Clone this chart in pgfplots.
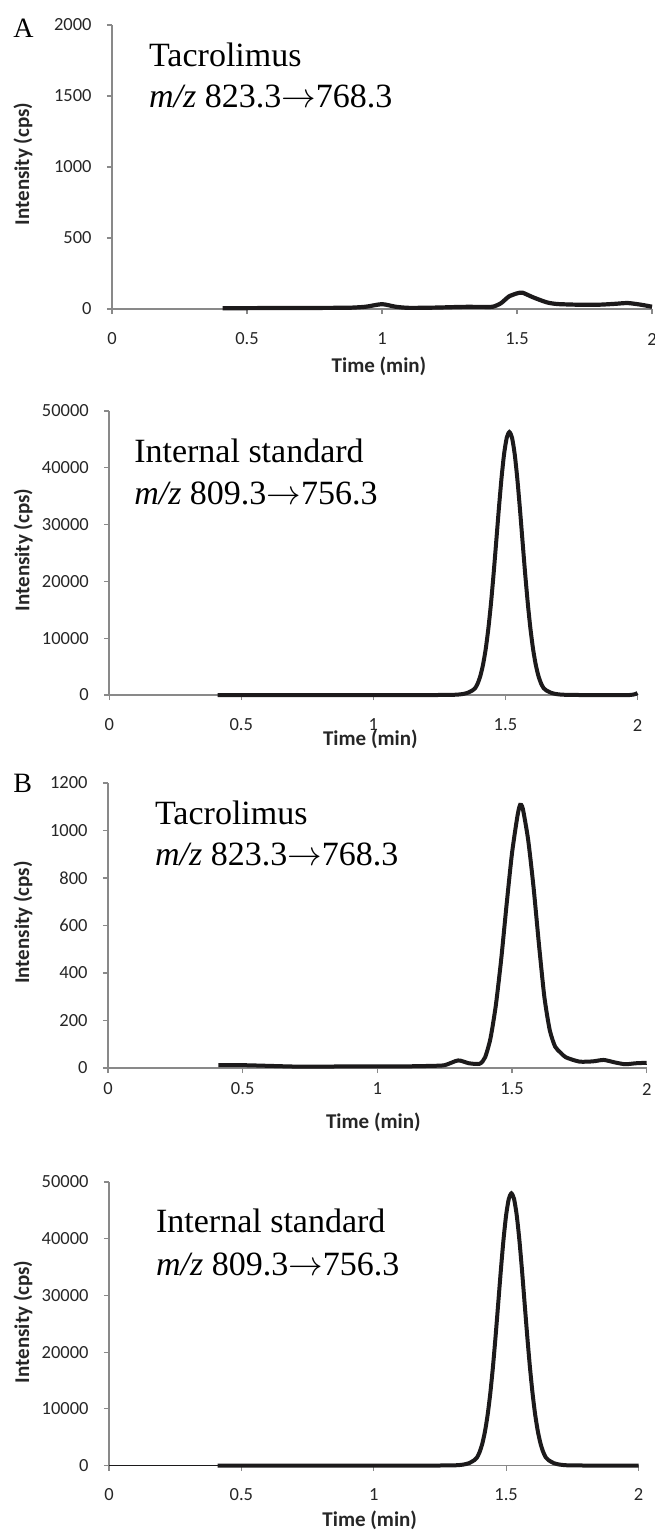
\documentclass[border=0pt]{standalone}
\usepackage{fontspec}
\setmainfont{Liberation Serif}
\newfontfamily\calibri{Carlito}
\usepackage{pgfplots}
\usepackage{pgfplotstable}
\pgfplotsset{compat=1.18}
\definecolor{axgray}{HTML}{898989}
\definecolor{txt}{HTML}{262626}
\definecolor{curve}{HTML}{1C1A1B}

\pgfplotstableread{
t y
0.41 6
0.50 6
0.60 7
0.70 7
0.80 8
0.88 9
0.94 16
1.00 34
1.05 16
1.10 8
1.20 10
1.30 15
1.37 15
1.41 16
1.44 40
1.47 88
1.50 110
1.52 115
1.56 82
1.61 47
1.65 35
1.73 30
1.80 30
1.86 36
1.91 42
1.96 30
2.00 16
}\tacA

\pgfplotstableread{
t y
0.41 0
0.80 0
1.20 0
1.28 10
1.315 60
1.335 150
1.355 350
1.375 800
1.385 1180
1.395 2030
1.405 3350
1.415 5290
1.425 7980
1.435 11550
1.445 15990
1.455 21200
1.465 26910
1.475 32720
1.485 38090
1.495 42450
1.505 45300
1.515 46300
1.525 45300
1.535 42450
1.545 38090
1.555 32720
1.565 26910
1.575 21200
1.585 15990
1.595 11550
1.605 7980
1.615 5290
1.625 3350
1.635 2030
1.645 1180
1.655 800
1.675 350
1.695 150
1.715 60
1.75 10
1.80 0
1.97 0
2.00 350
}\isA

\pgfplotstableread{
t y
0.41 12
0.50 12
0.60 9
0.70 6
0.80 6
0.90 7
1.00 7
1.10 7
1.20 9
1.25 12
1.30 32
1.34 20
1.38 18
1.40 45
1.42 125
1.44 265
1.46 460
1.48 690
1.50 905
1.52 1060
1.53 1108
1.54 1092
1.56 960
1.58 760
1.60 520
1.62 300
1.64 160
1.66 90
1.68 65
1.70 45
1.75 27
1.80 28
1.84 34
1.88 24
1.92 16
1.96 20
2.00 22
}\tacB

\pgfplotstableread{
t y
0.41 0
0.80 0
1.20 0
1.28 10
1.30 25
1.32 70
1.34 180
1.36 420
1.38 950
1.39 1420
1.40 2390
1.41 3860
1.42 5980
1.43 8880
1.44 12660
1.45 17300
1.46 22680
1.47 28520
1.48 34400
1.49 39800
1.50 44160
1.51 47010
1.52 48000
1.53 47010
1.54 44160
1.55 39800
1.56 34400
1.57 28520
1.58 22680
1.59 17300
1.60 12660
1.61 8880
1.62 5980
1.63 3860
1.64 2390
1.65 1420
1.66 950
1.68 420
1.70 180
1.72 70
1.74 25
1.78 5
1.85 0
2.00 0
}\isB

\pgfplotsset{chrom/.style={
  scale only axis, anchor=south west,
  axis lines=left, axis line style={-, draw=axgray, line width=0.7pt},
  xmin=0, xmax=2, ymin=0,
  xtick={0,0.5,1,1.5,2}, xticklabels={0,0.5,1,1.5,2},
  tick style={draw=axgray, line width=0.6pt}, tick align=outside, major tick length=2.5pt,
  minor tick num=0, scaled y ticks=false, scaled x ticks=false,
  ticklabel style={font=\calibri\fontsize{9.25}{10}\selectfont, text=txt, inner sep=0pt},
  yticklabel style={anchor=east, xshift=-7.5pt},
  label style={font=\calibri\bfseries\fontsize{10.5}{12}\selectfont, text=txt},
  xlabel={Time (min)}, ylabel={Intensity (cps)},
  clip=false,
}}
\newcommand{\ann}{\fontsize{17}{20}\selectfont}
\newcommand{\arr}{$\rightarrow$}

\begin{document}
\begin{tikzpicture}[x=1pt,y=1pt]
\useasboundingbox (0,0) rectangle (327,-765.5);

% Panel A tacrolimus
\begin{axis}[chrom, at={(56pt,-154.5pt)}, width=270pt, height=142pt, ymax=2000,
  ytick={0,500,1000,1500,2000}, yticklabels={0,500,1000,1500,2000},
  xticklabel style={anchor=center, yshift=-12.5pt},
  xlabel style={at={([xshift=-1.5pt,yshift=-28.5pt]axis description cs:0.5,0)}, anchor=center},
  ylabel style={at={([xshift=-44.5pt,yshift=1.5pt]axis description cs:0,0.5)}, anchor=center}]
\addplot[curve, line width=2.1pt, smooth, tension=0.4] table[x=t,y=y]{\tacA};
\node[anchor=base west, font=\ann] at ([xshift=15pt,yshift=121.5pt]rel axis cs:0,0) {Tacrolimus};
\node[anchor=base west, font=\ann] at ([xshift=15pt,yshift=101pt]rel axis cs:0,0) {\textit{m/z} 823.3\arr768.3};
\end{axis}

% Panel A internal standard
\begin{axis}[chrom, at={(54.6pt,-347.5pt)}, width=264.15pt, height=142pt, ymax=50000,
  ytick={0,10000,20000,30000,40000,50000}, yticklabels={0,10000,20000,30000,40000,50000},
  xticklabel style={anchor=center, yshift=-12.5pt},
  xlabel style={at={([xshift=-1.5pt,yshift=-22pt]axis description cs:0.5,0)}, anchor=center},
  ylabel style={at={([xshift=-43pt,yshift=1.5pt]axis description cs:0,0.5)}, anchor=center}]
\addplot[curve, line width=2pt, smooth, tension=0.4] table[x=t,y=y]{\isA};
\node[anchor=base west, font=\ann] at ([xshift=9pt,yshift=116.5pt]rel axis cs:0,0) {Internal standard};
\node[anchor=base west, font=\ann] at ([xshift=9pt,yshift=95.5pt]rel axis cs:0,0) {\textit{m/z} 809.3\arr756.3};
\end{axis}

% Panel B tacrolimus
\begin{axis}[chrom, at={(54pt,-534pt)}, width=269.35pt, height=142.5pt, ymax=1200,
  ytick={0,200,400,600,800,1000,1200}, yticklabels={0,200,400,600,800,1000,1200},
  xticklabel style={anchor=center, yshift=-8pt},
  xlabel style={at={([xshift=-2pt,yshift=-27pt]axis description cs:0.5,0)}, anchor=center},
  ylabel style={at={([xshift=-42.5pt,yshift=1.5pt]axis description cs:0,0.5)}, anchor=center}]
\addplot[curve, line width=2pt, smooth, tension=0.4] table[x=t,y=y]{\tacB};
\node[anchor=base west, font=\ann] at ([xshift=20pt,yshift=122pt]rel axis cs:0,0) {Tacrolimus};
\node[anchor=base west, font=\ann] at ([xshift=20pt,yshift=101.5pt]rel axis cs:0,0) {\textit{m/z} 823.3\arr768.3};
\end{axis}

% Panel B internal standard
\begin{axis}[chrom, at={(54.5pt,-732.75pt)}, width=264.75pt, height=141.75pt, ymax=50000,
  ytick={0,10000,20000,30000,40000,50000}, yticklabels={0,10000,20000,30000,40000,50000},
  xticklabel style={anchor=center, yshift=-12pt},
  xlabel style={at={([xshift=-2pt,yshift=-27.25pt]axis description cs:0.5,0)}, anchor=center},
  ylabel style={at={([xshift=-43pt,yshift=1pt]axis description cs:0,0.5)}, anchor=center}]
\addplot[curve, line width=0.9pt] coordinates {(0,0) (0.41,0)};
\addplot[curve, line width=2pt, smooth, tension=0.4] table[x=t,y=y]{\isB};
\node[anchor=base west, font=\ann] at ([xshift=20pt,yshift=116.75pt]rel axis cs:0,0) {Internal standard};
\node[anchor=base west, font=\ann] at ([xshift=20pt,yshift=95.25pt]rel axis cs:0,0) {\textit{m/z} 809.3\arr756.3};
\end{axis}

\node[anchor=base west, inner sep=0pt, font=\fontsize{14}{16}\selectfont] at (6.5,-19) {A};
\node[anchor=base west, inner sep=0pt, font=\fontsize{14}{16}\selectfont] at (6.5,-396) {B};
\end{tikzpicture}
\end{document}
